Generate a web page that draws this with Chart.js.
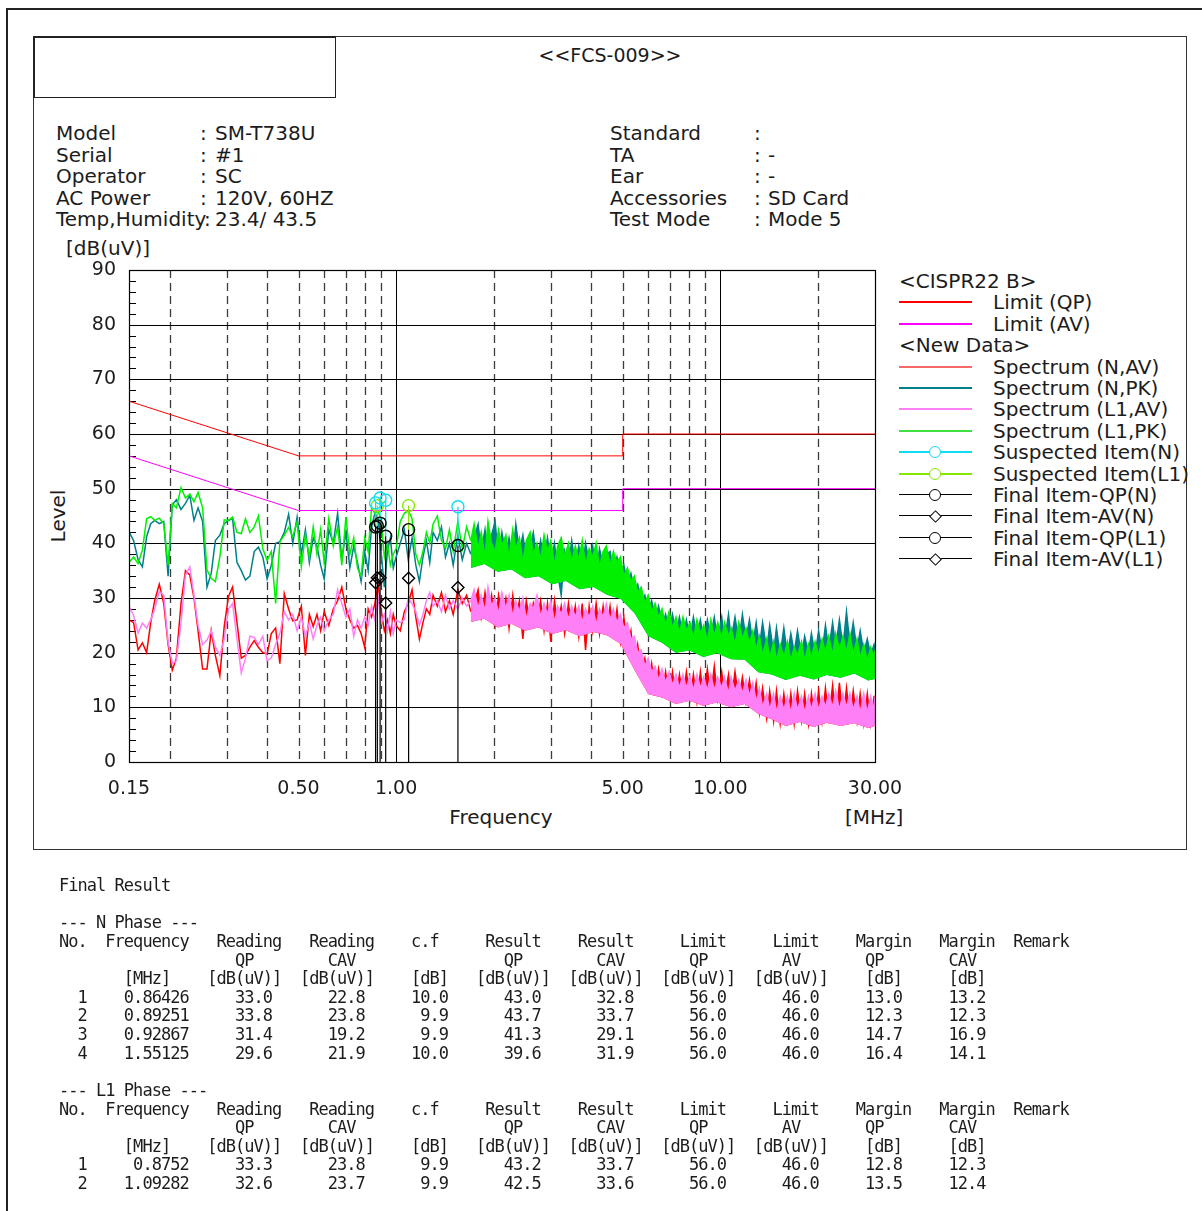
<!DOCTYPE html>
<html lang="en">
<head>
<meta charset="utf-8">
<title>FCS-009 conducted emission</title>
<script src="https://cdn.jsdelivr.net/npm/chart.js@4/dist/chart.umd.min.js"></script>
<style>
  html, body { margin: 0; padding: 0; background: #fff; }
  body { position: relative; width: 1202px; height: 1211px; overflow: hidden;
         font-family: "DejaVu Sans", sans-serif; font-size: 20px; color: #1c1c1c; }
  .abs { position: absolute; white-space: pre; line-height: 22px; }
  .rule { position: absolute; box-sizing: border-box; }
  .info { position: absolute; white-space: pre; line-height: 21.5px; }
  #chartBox { position: absolute; left: 0; top: 0; width: 1202px; height: 880px; }
  #table { position: absolute; left: 59px; top: 876px; margin: 0;
           font-family: "DejaVu Sans Mono", monospace; font-size: 17px;
           letter-spacing: -0.97px; line-height: 18.62px; color: #1c1c1c; }
</style>
</head>
<body>
<div class="rule" style="left:6px;top:8px;width:1196px;height:2px;background:#222"></div>
<div class="rule" style="left:6px;top:8px;width:2px;height:1203px;background:#222"></div>
<div class="rule" style="left:33px;top:36px;width:1154px;height:814px;border:1px solid #333"></div>
<div class="rule" style="left:33px;top:36px;width:303px;height:62px;border:1px solid #222;border-top-width:2px;border-left-width:2px"></div>
<div class="abs" style="left:410px;top:44px;width:400px;text-align:center;font-size:19px">&lt;&lt;FCS-009&gt;&gt;</div>

<div class="info" style="left:56px;top:123px">Model
Serial
Operator
AC Power
Temp,Humidity</div>
<div class="info" style="left:200px;top:123px">:
:
:
:
</div>
<div class="info" style="left:204px;top:209px">:</div>
<div class="info" style="left:215px;top:123px">SM-T738U
#1
SC
120V, 60HZ
23.4/ 43.5</div>
<div class="info" style="left:610px;top:123px">Standard
TA
Ear
Accessories
Test Mode</div>
<div class="info" style="left:754px;top:123px">:
:
:
:
:</div>
<div class="info" style="left:768px;top:123px">
-
-
SD Card
Mode 5</div>

<div class="abs" style="left:66px;top:237px">[dB(uV)]</div>
<div class="abs" style="left:28px;top:505px;width:60px;text-align:center;transform:rotate(-90deg)">Level</div>
<div class="abs" style="left:401px;top:806px;width:200px;text-align:center">Frequency</div>
<div class="abs" style="left:845px;top:806px">[MHz]</div>

<div id="legend"></div>
<div id="chartBox"><canvas id="emc" width="1202" height="880"></canvas></div>
<pre id="table"></pre>

<script>
// ---- axes ----
const xTickVals = [0.15, 0.5, 1, 5, 10, 30]
const decadeFreqs = [1, 10]
const dashFreqs = [0.2, 0.3, 0.4, 0.5, 0.6, 0.7, 0.8, 0.9, 2, 3, 4, 5, 6, 7, 8, 9, 20]
const levelGrid = [10, 20, 30, 40, 50, 60, 70, 80]

// ---- CISPR22 class B limits ----
const limitFreq = [0.15, 0.5, 5, 5, 30]
const limitQp = [66, 56, 56, 60, 60]
const limitAv = [56, 46, 46, 50, 50]

// ---- spectrum traces, 0.15 - 1.7 MHz [MHz] / [dB(uV)] ----
const lowFreqs = [0.150, 0.155, 0.160, 0.165, 0.170, 0.175, 0.180, 0.186, 0.192, 0.198,
  0.204, 0.210, 0.217, 0.224, 0.231, 0.238, 0.245, 0.253, 0.261, 0.269,
  0.277, 0.286, 0.295, 0.304, 0.313, 0.323, 0.333, 0.343, 0.354, 0.365,
  0.376, 0.388, 0.400, 0.412, 0.425, 0.438, 0.452, 0.466, 0.480, 0.495,
  0.510, 0.525, 0.540, 0.555, 0.570, 0.585, 0.600, 0.620, 0.640, 0.660,
  0.680, 0.700, 0.720, 0.740, 0.760, 0.780, 0.800, 0.820, 0.840, 0.860,
  0.880, 0.900, 0.920, 0.940, 0.960, 0.980, 1.00, 1.03, 1.06, 1.09,
  1.12, 1.15, 1.18, 1.21, 1.24, 1.27, 1.30, 1.34, 1.38, 1.42,
  1.46, 1.50, 1.55, 1.60, 1.65, 1.70]
const nPkLow = [42.1, 40.5, 37.0, 35.7, 41.2, 43.6, 44.2, 43.6, 44.0, 34.0,
  47.0, 48.0, 46.2, 47.3, 48.8, 44.2, 46.5, 44.0, 32.0, 34.5,
  40.5, 41.5, 43.6, 44.2, 44.5, 36.5, 35.0, 33.3, 34.0, 38.5,
  39.3, 37.5, 33.5, 36.0, 40.0, 40.3, 42.0, 45.3, 40.0, 44.8,
  38.0, 42.5, 36.5, 41.0, 39.5, 36.0, 33.5, 42.5, 40.0, 45.5,
  37.0, 42.0, 35.5, 39.5, 36.5, 33.0, 38.5, 35.0, 43.0, 45.5,
  44.5, 38.0, 32.0, 38.5, 41.0, 35.5, 37.5, 40.0, 42.5, 37.0,
  41.0, 36.0, 33.0, 37.5, 40.5, 36.5, 42.0, 40.5, 43.0, 37.5,
  40.0, 36.0, 41.5, 37.0, 40.0, 38.0]
const l1PkLow = [36.5, 37.5, 36.3, 38.8, 44.5, 44.9, 44.2, 44.6, 43.6, 36.0,
  47.3, 46.5, 50.2, 48.3, 49.0, 47.6, 49.3, 46.5, 35.1, 33.6,
  33.0, 37.5, 44.3, 44.2, 44.8, 42.0, 41.8, 44.5, 42.0, 43.0,
  45.0, 39.0, 36.9, 38.5, 29.0, 40.3, 41.5, 42.9, 41.2, 43.9,
  35.7, 41.5, 37.5, 43.0, 38.0, 42.5, 36.5, 44.5, 39.5, 43.0,
  36.0, 44.8, 38.0, 41.0, 35.5, 34.0, 41.0, 38.5, 46.5, 45.5,
  46.0, 44.0, 37.5, 40.0, 36.0, 38.0, 39.0, 44.0, 45.5, 46.0,
  44.5, 38.0, 36.0, 38.5, 42.0, 40.0, 43.5, 45.0, 40.5, 39.0,
  42.5, 38.5, 44.0, 39.0, 43.0, 40.5]
const nAvLow = [26.0, 25.5, 20.5, 21.8, 20.0, 25.5, 29.5, 32.5, 29.0, 21.5,
  16.8, 19.0, 29.0, 35.0, 34.2, 30.0, 24.0, 17.0, 17.0, 24.0,
  19.5, 15.8, 24.8, 30.3, 32.0, 25.5, 19.0, 19.5, 21.0, 22.2,
  21.0, 20.0, 19.7, 23.5, 24.5, 18.0, 30.8, 28.0, 25.8, 26.0,
  28.5, 19.5, 27.0, 24.8, 27.0, 24.0, 27.5, 25.0, 28.0, 29.5,
  32.0, 28.0, 26.0, 24.5, 25.0, 23.5, 21.0, 28.0, 26.5, 29.0,
  32.5, 27.5, 24.0, 26.0, 23.5, 27.0, 25.0, 24.0, 27.5, 29.0,
  31.5, 26.5, 22.5, 25.5, 28.0, 27.0, 30.5, 28.5, 31.0, 27.5,
  29.5, 27.0, 31.5, 29.0, 30.5, 27.5]
const l1AvLow = [28.5, 26.8, 23.6, 25.4, 24.5, 26.0, 28.0, 31.2, 30.5, 22.0,
  18.0, 18.5, 25.5, 34.2, 35.7, 30.5, 25.0, 21.5, 22.3, 24.0,
  21.0, 19.5, 22.5, 28.0, 29.0, 22.5, 16.3, 19.0, 23.0, 22.8,
  21.5, 23.0, 18.5, 19.0, 21.5, 23.5, 27.5, 26.0, 27.0, 24.0,
  26.5, 23.0, 25.5, 22.5, 25.0, 26.5, 24.0, 26.0, 27.0, 31.5,
  29.0, 26.5, 28.0, 23.0, 26.0, 24.5, 26.5, 25.0, 28.5, 26.0,
  30.0, 25.5, 27.0, 24.0, 27.5, 23.5, 26.0, 25.5, 26.0, 30.0,
  29.0, 27.5, 25.0, 27.0, 29.5, 31.0, 28.5, 29.5, 27.5, 30.5,
  28.0, 29.5, 28.0, 30.0, 28.5, 29.5]

// ---- spectrum traces, 1.7 - 30 MHz (dense noise, upper edge) ----
const hiFreqs = [1.70, 1.74, 1.79, 1.83, 1.88, 1.92, 1.97, 2.02, 2.07, 2.12,
  2.18, 2.23, 2.29, 2.34, 2.40, 2.46, 2.52, 2.59, 2.65, 2.72,
  2.79, 2.86, 2.93, 3.00, 3.08, 3.15, 3.23, 3.31, 3.40, 3.48,
  3.57, 3.66, 3.75, 3.84, 3.94, 4.04, 4.14, 4.24, 4.35, 4.45,
  4.57, 4.68, 4.80, 4.92, 5.04, 5.17, 5.30, 5.43, 5.56, 5.70,
  5.85, 5.99, 6.14, 6.29, 6.45, 6.61, 6.78, 6.95, 7.12, 7.30,
  7.48, 7.67, 7.86, 8.06, 8.26, 8.47, 8.68, 8.89, 9.12, 9.35,
  9.58, 9.82, 10.1, 10.3, 10.6, 10.8, 11.1, 11.4, 11.7, 12.0,
  12.3, 12.6, 12.9, 13.2, 13.5, 13.9, 14.2, 14.6, 14.9, 15.3,
  15.7, 16.1, 16.5, 16.9, 17.3, 17.8, 18.2, 18.7, 19.1, 19.6,
  20.1, 20.6, 21.1, 21.6, 22.2, 22.7, 23.3, 23.9, 24.5, 25.1,
  25.7, 26.4, 27.0, 27.7, 28.4, 29.1, 29.8, 30.0]
const nPkHi = [38.0, 41.0, 43.5, 38.5, 42.5, 37.5, 41.5, 44.0, 37.0, 42.0,
  38.0, 41.0, 37.0, 43.5, 38.5, 41.5, 37.0, 39.5, 42.0, 36.5,
  40.5, 37.0, 41.0, 36.5, 40.0, 34.5, 30.5, 38.5, 35.5, 40.5,
  36.0, 39.5, 35.0, 40.0, 36.5, 39.5, 34.5, 39.0, 36.0, 38.0,
  38.5, 35.0, 37.5, 34.5, 36.0, 32.5, 34.5, 31.5, 32.5, 29.5,
  30.5, 27.5, 29.5, 26.0, 28.5, 25.0, 27.0, 24.0, 27.0, 23.5,
  26.5, 23.0, 26.0, 22.5, 26.5, 23.0, 26.0, 22.0, 26.0, 23.0,
  26.5, 22.5, 26.5, 22.0, 27.0, 22.5, 26.5, 22.0, 27.0, 22.5,
  26.0, 21.5, 25.5, 21.0, 25.5, 20.5, 25.0, 20.0, 24.5, 19.5,
  24.5, 19.5, 23.5, 20.0, 24.0, 19.5, 23.0, 20.0, 23.5, 19.5,
  24.0, 20.0, 25.0, 20.5, 25.5, 21.0, 26.0, 21.0, 27.5, 21.5,
  25.5, 20.5, 24.0, 20.0, 22.5, 19.5, 21.5, 20.5]
const l1PkHi = [40.5, 43.5, 39.0, 42.0, 37.5, 44.0, 40.0, 38.5, 42.5, 39.5,
  41.5, 37.5, 42.5, 39.0, 41.0, 36.5, 40.5, 42.0, 38.0, 40.0,
  37.0, 41.5, 38.5, 40.5, 36.0, 39.5, 41.0, 37.5, 40.0, 36.5,
  39.5, 37.0, 40.5, 36.0, 39.0, 37.5, 40.0, 35.5, 38.5, 39.5,
  36.0, 38.5, 36.5, 37.5, 34.0, 35.5, 33.0, 34.0, 31.0, 32.0,
  29.0, 30.5, 27.5, 29.0, 26.5, 28.0, 25.0, 27.5, 24.5, 26.5,
  23.5, 26.5, 24.0, 25.5, 22.5, 26.0, 23.5, 25.0, 22.0, 26.0,
  23.0, 25.5, 22.5, 25.5, 23.0, 24.5, 21.5, 25.5, 22.5, 24.5,
  21.5, 24.0, 20.5, 23.0, 19.5, 22.5, 19.0, 22.0, 18.5, 21.5,
  19.0, 22.0, 18.5, 21.0, 19.5, 22.0, 18.5, 21.5, 19.0, 22.0,
  19.5, 22.5, 20.0, 23.0, 19.5, 23.5, 20.5, 23.0, 20.0, 23.5,
  19.5, 22.5, 19.0, 21.5, 18.5, 21.0, 19.0, 20.5]
const nAvHi = [27.5, 29.0, 31.5, 26.5, 31.0, 27.0, 30.5, 25.0, 30.5, 27.0,
  30.0, 24.5, 30.5, 26.0, 29.5, 22.5, 29.5, 25.5, 29.0, 26.0,
  29.5, 24.0, 29.0, 22.0, 29.5, 25.0, 28.5, 23.5, 29.0, 24.5,
  28.5, 23.0, 29.0, 20.5, 28.5, 24.0, 29.0, 23.5, 28.5, 24.0,
  28.5, 23.5, 28.0, 22.0, 26.5, 21.0, 24.0, 18.0, 21.5, 16.5,
  19.0, 14.0, 18.0, 13.0, 17.0, 12.5, 16.5, 12.0, 16.5, 11.5,
  16.0, 12.0, 16.5, 11.5, 16.0, 11.0, 16.5, 11.5, 17.0, 12.0,
  17.5, 11.5, 16.5, 12.0, 16.0, 11.0, 16.5, 11.5, 15.5, 11.0,
  15.0, 10.5, 14.5, 9.0, 13.5, 8.0, 13.0, 7.5, 13.0, 7.0,
  12.5, 7.5, 12.5, 7.0, 13.0, 7.5, 12.5, 7.0, 12.5, 7.5,
  13.0, 7.5, 13.5, 8.0, 14.0, 7.5, 14.5, 7.5, 13.5, 8.0,
  13.0, 7.5, 12.5, 7.0, 12.5, 7.0, 12.0, 12.0]
const l1AvHi = [29.5, 31.5, 28.0, 30.5, 27.5, 32.0, 28.5, 30.0, 27.0, 31.0,
  28.0, 30.5, 26.5, 29.5, 27.5, 30.0, 26.0, 29.0, 28.0, 30.5,
  26.5, 29.0, 27.0, 29.5, 25.5, 28.5, 27.0, 29.0, 26.0, 28.5,
  26.5, 28.5, 25.5, 28.0, 26.5, 28.5, 25.0, 28.0, 26.5, 29.0,
  26.0, 28.0, 25.5, 27.0, 24.5, 25.5, 22.5, 23.0, 20.0, 20.5,
  17.5, 19.0, 16.5, 17.5, 15.0, 17.0, 14.5, 16.5, 14.0, 16.0,
  13.5, 16.0, 13.5, 15.8, 13.0, 16.0, 13.5, 15.5, 13.0, 16.0,
  13.0, 15.5, 13.5, 15.5, 12.5, 15.5, 13.0, 15.0, 12.5, 15.0,
  12.0, 14.5, 11.0, 13.5, 10.0, 12.5, 9.5, 12.5, 9.0, 12.0,
  9.5, 12.0, 9.0, 12.5, 9.5, 12.0, 9.0, 12.0, 9.5, 12.5,
  9.5, 12.0, 10.0, 12.5, 10.0, 13.0, 9.5, 12.5, 10.0, 12.5,
  9.5, 12.0, 9.0, 12.5, 9.0, 12.0, 9.5, 12.0]

// lower edge of the dense noise band
const floorFreqs = [1.70, 1.87, 2.06, 2.27, 2.50, 2.75, 3.03, 3.34, 3.68, 4.06,
  4.47, 4.93, 5.44, 6.00, 6.61, 7.29, 8.04, 8.86, 9.77, 10.8,
  11.9, 13.1, 14.4, 15.9, 17.6, 19.4, 21.3, 23.5, 25.9, 28.6, 30.0]
const pkFloor = [35.5, 36.2, 34.8, 35.2, 33.6, 34.0, 32.5, 33.1, 31.6, 32.0,
  30.6, 29.8, 27.2, 23.0, 21.8, 20.0, 20.4, 19.2, 19.9, 18.8,
  18.7, 16.4, 16.0, 15.0, 15.8, 15.1, 15.9, 15.4, 16.2, 14.9, 15.2]
const avFloor = [25.6, 26.2, 24.6, 25.3, 24.0, 24.6, 23.4, 24.1, 23.0, 23.8,
  23.2, 21.6, 16.8, 12.4, 11.8, 10.6, 11.2, 10.3, 10.9, 10.0,
  10.6, 8.8, 7.8, 6.6, 7.3, 6.4, 7.2, 6.6, 7.1, 6.2, 6.6]

// ---- suspected / final items ----
const susNFreq = [0.86426, 0.89251, 0.92867, 1.55125]
const susNLevel = [47.4, 48.3, 47.9, 46.7]
const susL1Freq = [0.8752, 1.09282]
const susL1Level = [46.9, 46.9]
const finNFreq = [0.86426, 0.89251, 0.92867, 1.55125]
const finNQp = [43.0, 43.7, 41.3, 39.6]
const finNAv = [32.8, 33.7, 29.1, 31.9]
const finL1Freq = [0.8752, 1.09282]
const finL1Qp = [43.2, 42.5]
const finL1Av = [33.7, 33.6]

// ---- final result table ----
const nPhaseRows = [
  [1, '0.86426', 33.0, 22.8, 10.0, 43.0, 32.8, 56.0, 46.0, 13.0, 13.2],
  [2, '0.89251', 33.8, 23.8, 9.9, 43.7, 33.7, 56.0, 46.0, 12.3, 12.3],
  [3, '0.92867', 31.4, 19.2, 9.9, 41.3, 29.1, 56.0, 46.0, 14.7, 16.9],
  [4, '1.55125', 29.6, 21.9, 10.0, 39.6, 31.9, 56.0, 46.0, 16.4, 14.1]
]
const l1PhaseRows = [
  [1, '0.8752', 33.3, 23.8, 9.9, 43.2, 33.7, 56.0, 46.0, 12.8, 12.3],
  [2, '1.09282', 32.6, 23.7, 9.9, 42.5, 33.6, 56.0, 46.0, 13.5, 12.4]
]

const limitQpColor = '#ff0000'
const limitAvColor = '#ff00ff'
const nAvColor = '#ff0000'
const nPkColor = '#00808a'
const l1AvColor = '#ff80f6'
const l1PkColor = '#00f000'
const susNColor = '#10dcf0'
const susL1Color = '#86e800'

const pts = (fs, vs) => fs.map((f, i) => ({ x: f, y: vs[i] }))
// vertical drop lines, from a base level (array or 0) up to each marker
function stems(fs, vs, base) {
    const out = []
    fs.forEach((f, i) => { out.push({ x: f, y: base ? base[i] : 0 }, { x: f, y: vs[i] }, { x: f, y: null }) })
    return out
}
function trace(label, data, color, order, extra) {
    return Object.assign({ label, data, borderColor: color, backgroundColor: color,
        borderWidth: 1.5, pointRadius: 0, fill: false, order }, extra || {})
}
function markers(label, data, color, style, order) {
    return { label, data, showLine: false, borderColor: color, backgroundColor: 'rgba(0,0,0,0)',
        pointStyle: style, pointRadius: 6, pointBorderWidth: 1.4, order }
}
function bandFill(target, color) { return { fill: { target, above: color, below: color } } }

const datasets = []
// floors first (index 0 and 1) so the band fills can point at them
datasets.push({ label: 'pk floor', data: pts(floorFreqs, pkFloor), borderColor: 'rgba(0,0,0,0)', borderWidth: 1, pointRadius: 0, fill: false, order: 20 })
datasets.push({ label: 'av floor', data: pts(floorFreqs, avFloor), borderColor: 'rgba(0,0,0,0)', borderWidth: 1, pointRadius: 0, fill: false, order: 20 })
datasets.push(trace('Spectrum (N,PK)', pts(lowFreqs, nPkLow), nPkColor, 9))
datasets.push(trace('Spectrum (N,PK) hi', pts(hiFreqs, nPkHi), nPkColor, 9, bandFill(0, nPkColor)))
datasets.push(trace('Spectrum (L1,PK)', pts(lowFreqs, l1PkLow), l1PkColor, 8))
datasets.push(trace('Spectrum (L1,PK) hi', pts(hiFreqs, l1PkHi), l1PkColor, 8, bandFill(0, l1PkColor)))
datasets.push(trace('Spectrum (N,AV)', pts(lowFreqs, nAvLow), nAvColor, 7))
datasets.push(trace('Spectrum (N,AV) hi', pts(hiFreqs, nAvHi), nAvColor, 7, bandFill(1, nAvColor)))
datasets.push(trace('Spectrum (L1,AV)', pts(lowFreqs, l1AvLow), l1AvColor, 6))
datasets.push(trace('Spectrum (L1,AV) hi', pts(hiFreqs, l1AvHi), l1AvColor, 6, bandFill(1, l1AvColor)))
datasets.push(trace('Limit (QP)', pts(limitFreq, limitQp), limitQpColor, 5, { borderWidth: 1 }))
datasets.push(trace('Limit (AV)', pts(limitFreq, limitAv), limitAvColor, 5, { borderWidth: 1 }))
datasets.push(trace('sus N stems', stems(susNFreq, susNLevel, finNQp), susNColor, 4, { borderWidth: 1.3 }))
datasets.push(trace('sus L1 stems', stems(susL1Freq, susL1Level, finL1Qp), susL1Color, 4, { borderWidth: 1.3 }))
datasets.push(markers('Suspected Item(N)', pts(susNFreq, susNLevel), susNColor, 'circle', 3))
datasets.push(markers('Suspected Item(L1)', pts(susL1Freq, susL1Level), susL1Color, 'circle', 3))
datasets.push(trace('fin N stems', stems(finNFreq, finNQp), '#000', 2, { borderWidth: 1.2 }))
datasets.push(trace('fin L1 stems', stems(finL1Freq, finL1Qp), '#000', 2, { borderWidth: 1.2 }))
datasets.push(markers('Final Item-QP(N)', pts(finNFreq, finNQp), '#000', 'circle', 1))
datasets.push(markers('Final Item-AV(N)', pts(finNFreq, finNAv), '#000', 'rectRot', 1))
datasets.push(markers('Final Item-QP(L1)', pts(finL1Freq, finL1Qp), '#000', 'circle', 1))
datasets.push(markers('Final Item-AV(L1)', pts(finL1Freq, finL1Av), '#000', 'rectRot', 1))

// grid: solid decades and 10 dB lines, dashed sub-decades, 2 dB minor ticks
const gridPlugin = {
    id: 'emcGrid',
    beforeDatasetsDraw(chart) {
        const { ctx, chartArea: a, scales: { x, y } } = chart
        const seg = (x1, y1, x2, y2) => { ctx.beginPath(); ctx.moveTo(x1, y1); ctx.lineTo(x2, y2); ctx.stroke() }
        ctx.save()
        ctx.strokeStyle = '#3c3c3c'
        ctx.lineWidth = 1.3
        ctx.setLineDash([8, 5])
        dashFreqs.forEach(f => { const px = Math.round(x.getPixelForValue(f)) + 0.5; seg(px, a.top, px, a.bottom) })
        ctx.setLineDash([])
        ctx.strokeStyle = '#000'
        ctx.lineWidth = 1
        decadeFreqs.forEach(f => { const px = Math.round(x.getPixelForValue(f)) + 0.5; seg(px, a.top, px, a.bottom) })
        levelGrid.forEach(v => { const py = Math.round(y.getPixelForValue(v)) + 0.5; seg(a.left, py, a.right, py) })
        for (let v = 2; v < 90; v += 2) {
            if (v % 10 === 0) continue
            const py = Math.round(y.getPixelForValue(v)) + 0.5
            seg(a.left, py, a.left + 7, py)
        }
        ctx.restore()
    },
    afterDatasetsDraw(chart) {
        const { ctx, chartArea: a } = chart
        ctx.save()
        ctx.strokeStyle = '#000'
        ctx.lineWidth = 1.2
        ctx.strokeRect(Math.round(a.left) + 0.5, Math.round(a.top) + 0.5, Math.round(a.right - a.left), Math.round(a.bottom - a.top))
        ctx.restore()
    }
}

const tickFont = { family: 'DejaVu Sans', size: 19 }
new Chart(document.getElementById('emc'), {
    type: 'line',
    data: { datasets },
    options: {
        responsive: false,
        animation: false,
        layout: { padding: { left: 69, top: 270, right: 327, bottom: 68 } },
        plugins: { legend: { display: false }, tooltip: { enabled: false } },
        scales: {
            x: {
                type: 'logarithmic', min: 0.15, max: 30,
                grid: { display: false }, border: { display: false },
                afterBuildTicks: s => { s.ticks = xTickVals.map(v => ({ value: v })) },
                afterFit: s => { s.height = 50 },
                ticks: { autoSkip: false, maxRotation: 0, padding: 8, color: '#1c1c1c', font: tickFont,
                    callback: v => Number(v).toFixed(2) }
            },
            y: {
                type: 'linear', min: 0, max: 90,
                grid: { display: false, drawTicks: false }, border: { display: false },
                afterFit: s => { s.width = 60 },
                ticks: { stepSize: 10, padding: 13, color: '#1c1c1c', font: tickFont }
            }
        }
    },
    plugins: [gridPlugin]
})

// ---- legend ----
const legendItems = [
    { text: '<CISPR22 B>' },
    { text: 'Limit (QP)', color: limitQpColor, w: 2 },
    { text: 'Limit (AV)', color: limitAvColor, w: 2 },
    { text: '<New Data>' },
    { text: 'Spectrum (N,AV)', color: '#f46a6a', w: 2 },
    { text: 'Spectrum (N,PK)', color: nPkColor, w: 2 },
    { text: 'Spectrum (L1,AV)', color: l1AvColor, w: 2 },
    { text: 'Spectrum (L1,PK)', color: '#40e040', w: 2 },
    { text: 'Suspected Item(N)', color: susNColor, w: 2, marker: 'circle' },
    { text: 'Suspected Item(L1)', color: susL1Color, w: 2, marker: 'circle' },
    { text: 'Final Item-QP(N)', color: '#000', w: 1, marker: 'circle' },
    { text: 'Final Item-AV(N)', color: '#000', w: 1, marker: 'diamond' },
    { text: 'Final Item-QP(L1)', color: '#000', w: 1, marker: 'circle' },
    { text: 'Final Item-AV(L1)', color: '#000', w: 1, marker: 'diamond' }
]
const legend = document.getElementById('legend')
legendItems.forEach((it, i) => {
    const cy = Math.round(281 + i * 21.4)
    const t = document.createElement('div')
    t.className = 'abs'
    t.style.left = (it.color ? 993 : 899) + 'px'
    t.style.top = (cy - 11) + 'px'
    t.textContent = it.text
    legend.appendChild(t)
    if (!it.color) return
    const ln = document.createElement('div')
    ln.className = 'rule'
    Object.assign(ln.style, { left: '899px', top: (cy - 1) + 'px', width: '73px', height: it.w + 'px', background: it.color })
    legend.appendChild(ln)
    if (it.marker) {
        const m = document.createElement('div')
        m.className = 'rule'
        const s = it.marker === 'circle' ? 12 : 9
        Object.assign(m.style, { left: (935 - s / 2) + 'px', top: (cy - s / 2) + 'px', width: s + 'px', height: s + 'px',
            border: '1.3px solid ' + it.color, background: '#fff',
            borderRadius: it.marker === 'circle' ? '50%' : '0', transform: it.marker === 'diamond' ? 'rotate(45deg)' : 'none' })
        legend.appendChild(m)
    }
})

// ---- final result table (fixed-width columns) ----
function place(items) {
    let s = ''
    items.forEach(([col, txt]) => { s = s.padEnd(col) + txt })
    return s
}
const colWidths = [3, 11, 9, 10, 9, 10, 10, 10, 10, 9, 9]
const fmtRow = r => r.map((v, i) => (typeof v === 'number' && i > 0 ? v.toFixed(1) : String(v)).padStart(colWidths[i])).join('')
const head1 = place([[0, 'No.'], [5, 'Frequency'], [17, 'Reading'], [27, 'Reading'], [38, 'c.f'], [46, 'Result'], [56, 'Result'],
    [67, 'Limit'], [77, 'Limit'], [86, 'Margin'], [95, 'Margin'], [103, 'Remark']])
const head2 = place([[19, 'QP'], [29, 'CAV'], [48, 'QP'], [58, 'CAV'], [68, 'QP'], [78, 'AV'], [87, 'QP'], [96, 'CAV']])
const head3 = place([[7, '[MHz]'], [16, '[dB(uV)]'], [26, '[dB(uV)]'], [38, '[dB]'], [45, '[dB(uV)]'], [55, '[dB(uV)]'],
    [65, '[dB(uV)]'], [75, '[dB(uV)]'], [87, '[dB]'], [96, '[dB]']])
const lines = ['Final Result', '', '--- N Phase ---', head1, head2, head3]
nPhaseRows.forEach(r => lines.push(fmtRow(r)))
lines.push('', '--- L1 Phase ---', head1, head2, head3)
l1PhaseRows.forEach(r => lines.push(fmtRow(r)))
document.getElementById('table').textContent = lines.join('\n')
</script>
</body>
</html>
